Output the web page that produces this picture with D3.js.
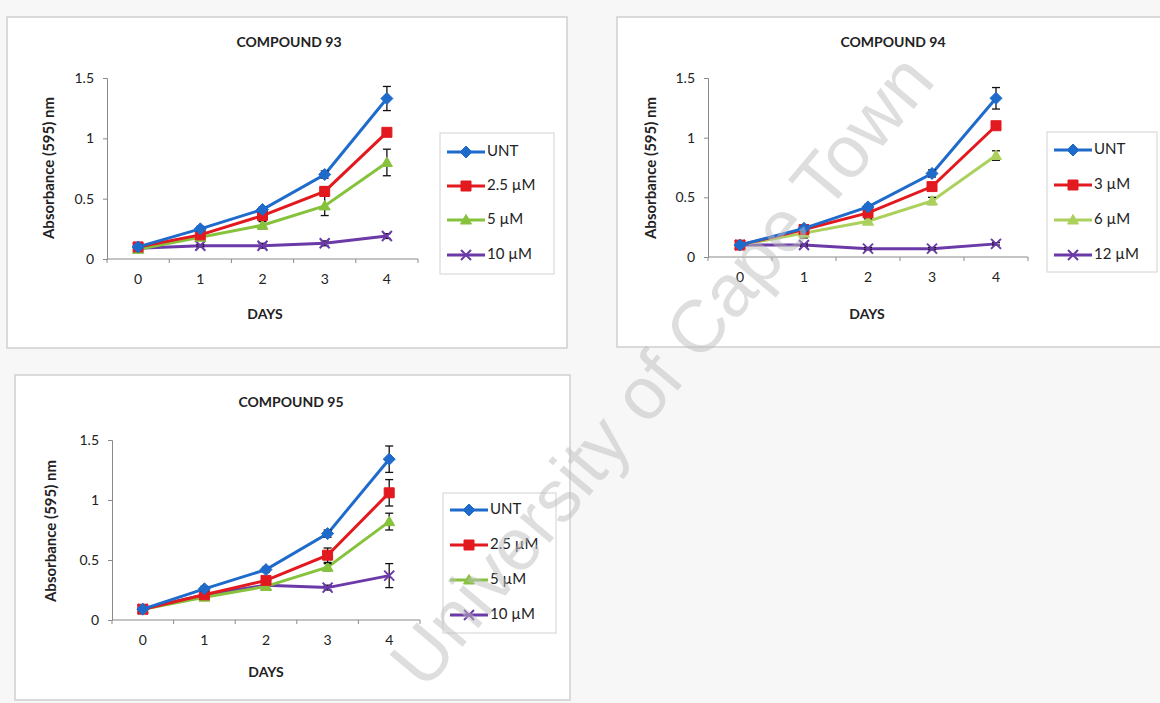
<!DOCTYPE html>
<html>
<head>
<meta charset="utf-8">
<script src="https://cdn.jsdelivr.net/npm/d3@7"></script>
<style>
  html, body { margin: 0; padding: 0; background: #f7f7f8; }
  svg { display: block; }
  text { font-family: Lato, "Open Sans", "DejaVu Sans", sans-serif; }
</style>
</head>
<body>
<svg id="chart" width="1160" height="703"></svg>
<script>
// ---------------- DATA ----------------
const days = [0, 1, 2, 3, 4];
const dayLabels = ["0", "1", "2", "3", "4"];
const yTicks = [0, 0.5, 1, 1.5];
const yTickLabels = ["0", "0.5", "1", "1.5"];
const titles = ["COMPOUND 93", "COMPOUND 94", "COMPOUND 95"];
const xAxisTitle = "DAYS";
const yAxisTitle = "Absorbance (595) nm";

const legend93 = ["UNT", "2.5 µM", "5 µM", "10 µM"];
const legend94 = ["UNT", "3 µM", "6 µM", "12 µM"];
const legend95 = ["UNT", "2.5 µM", "5 µM", "10 µM"];

// Compound 93
const c93_unt   = [0.10, 0.25, 0.41, 0.70, 1.33];
const c93_s2    = [0.10, 0.20, 0.36, 0.56, 1.05];
const c93_s3    = [0.08, 0.18, 0.28, 0.44, 0.80];
const c93_s4    = [0.09, 0.11, 0.11, 0.13, 0.19];
const c93_unt_err = [0.01, 0.02, 0.02, 0.03, 0.10];
const c93_s2_err  = [0.01, 0.02, 0.02, 0.04, 0.03];
const c93_s3_err  = [0.01, 0.02, 0.03, 0.08, 0.11];
const c93_s4_err  = [0.01, 0.01, 0.02, 0.02, 0.02];

// Compound 94
const c94_unt   = [0.10, 0.24, 0.42, 0.70, 1.33];
const c94_s2    = [0.10, 0.23, 0.37, 0.59, 1.10];
const c94_s3    = [0.10, 0.20, 0.30, 0.47, 0.85];
const c94_s4    = [0.10, 0.10, 0.07, 0.07, 0.11];
const c94_unt_err = [0.01, 0.02, 0.02, 0.03, 0.09];
const c94_s2_err  = [0.01, 0.02, 0.02, 0.03, 0.02];
const c94_s3_err  = [0.01, 0.04, 0.02, 0.03, 0.04];
const c94_s4_err  = [0.01, 0.01, 0.01, 0.01, 0.01];

// Compound 95
const c95_unt   = [0.09, 0.26, 0.42, 0.72, 1.34];
const c95_s2    = [0.09, 0.21, 0.33, 0.54, 1.06];
const c95_s3    = [0.09, 0.19, 0.28, 0.44, 0.82];
const c95_s4    = [0.09, 0.21, 0.29, 0.27, 0.37];
const c95_unt_err = [0.01, 0.02, 0.02, 0.03, 0.11];
const c95_s2_err  = [0.01, 0.02, 0.02, 0.06, 0.11];
const c95_s3_err  = [0.01, 0.02, 0.02, 0.03, 0.07];
const c95_s4_err  = [0.01, 0.02, 0.02, 0.02, 0.10];

const watermark = "University of Cape Town";

// ---------------- STYLE / LAYOUT ----------------
const colors = ["#1f6bcc", "#e2191f", "#86c23c", "#6b3aa8"];
const colors94 = ["#1f6bcc", "#e2191f", "#acd05c", "#6b3aa8"];
const markers = ["diamond", "square", "triangle", "cross"];

const panels = [
  { frame: [7, 17, 567, 348], plotX: [107, 418], y0: 259, y15: 78,
    legend: [440, 133, 554, 274], rows: [152, 186, 220, 255],
    title: [289, 43], xt: [265, 315], yt: [50, 168],
    labels: legend93, colors: colors,
    series: [c93_unt, c93_s2, c93_s3, c93_s4],
    errs: [c93_unt_err, c93_s2_err, c93_s3_err, c93_s4_err], name: titles[0] },
  { frame: [617, 17, 1190, 347], plotX: [708, 1028], y0: 257, y15: 78,
    legend: [1047, 132, 1157, 272], rows: [150, 185, 220, 255],
    title: [893, 43], xt: [867, 315], yt: [652, 168],
    labels: legend94, colors: colors94,
    series: [c94_unt, c94_s2, c94_s3, c94_s4],
    errs: [c94_unt_err, c94_s2_err, c94_s3_err, c94_s4_err], name: titles[1] },
  { frame: [15, 375, 570, 700], plotX: [112, 420], y0: 620, y15: 440,
    legend: [443, 493, 556, 633], rows: [510, 545, 580, 615],
    title: [291, 403], xt: [266, 673], yt: [52, 531],
    labels: legend95, colors: colors,
    series: [c95_unt, c95_s2, c95_s3, c95_s4],
    errs: [c95_unt_err, c95_s2_err, c95_s3_err, c95_s4_err], name: titles[2] }
];

const svg = d3.select("#chart");

function markerPath(type, s) {
  if (type === "diamond") return `M0,${-s}L${s},0L0,${s}L${-s},0Z`;
  if (type === "square") return `M${-s},${-s}H${s}V${s}H${-s}Z`;
  if (type === "triangle") return `M0,${-s * 1.1}L${s * 1.1},${s * 0.8}L${-s * 1.1},${s * 0.8}Z`;
  return `M${-s},${-s}L${s},${s}M${-s},${s}L${s},${-s}`;
}

function drawMarker(g, type, x, y, color) {
  const size = type === "diamond" ? 6 : 5;
  const p = g.append("path")
    .attr("d", markerPath(type, size))
    .attr("transform", `translate(${x},${y})`);
  if (type === "cross") {
    p.attr("fill", "none").attr("stroke", color).attr("stroke-width", 2);
  } else {
    p.attr("fill", color).attr("stroke", color).attr("stroke-width", 1);
  }
}

panels.forEach((P) => {
  const g = svg.append("g");
  const [fx0, fy0, fx1, fy1] = P.frame;
  g.append("rect").attr("x", fx0).attr("y", fy0)
    .attr("width", fx1 - fx0).attr("height", fy1 - fy0)
    .attr("fill", "#ffffff").attr("stroke", "#cfcfcf").attr("stroke-width", 1.5);

  const x = d3.scalePoint().domain(days).range(P.plotX).padding(0.5);
  const xb = d3.scaleBand().domain(days).range(P.plotX);
  const y = d3.scaleLinear().domain([0, 1.5]).range([P.y0, P.y15]);

  // title
  g.append("text").attr("x", P.title[0]).attr("y", P.title[1])
    .attr("text-anchor", "middle").attr("dominant-baseline", "middle")
    .attr("font-size", 14).attr("font-weight", 700).attr("fill", "#222")
    .text(P.name);

  // y axis
  const yAxis = d3.axisLeft(y).tickValues(yTicks)
    .tickFormat((d, i) => yTickLabels[i]).tickSize(4).tickPadding(9);
  const ya = g.append("g").attr("transform", `translate(${P.plotX[0]},0)`).call(yAxis);
  ya.select(".domain").attr("stroke", "#8a8a8a");
  ya.selectAll(".tick line").attr("stroke", "#8a8a8a");
  ya.selectAll("text").attr("font-size", 14).attr("fill", "#222")
    .style("font-family", "Lato, sans-serif");

  // x axis (Excel-style ticks between categories)
  const xa = g.append("g").attr("transform", `translate(0,${P.y0})`);
  xa.append("line").attr("x1", P.plotX[0]).attr("x2", P.plotX[1])
    .attr("y1", 0).attr("y2", 0).attr("stroke", "#8a8a8a").attr("stroke-width", 1);
  const edges = days.map(d => xb(d)).concat([P.plotX[1]]);
  xa.selectAll("line.tk").data(edges).enter().append("line").attr("class", "tk")
    .attr("x1", d => d).attr("x2", d => d).attr("y1", 0).attr("y2", 4)
    .attr("stroke", "#8a8a8a");
  xa.selectAll("text").data(days).enter().append("text")
    .attr("x", d => x(d)).attr("y", 25).attr("text-anchor", "middle")
    .attr("font-size", 14).attr("fill", "#222").text((d, i) => dayLabels[i]);

  // axis titles
  g.append("text").attr("x", P.xt[0]).attr("y", P.xt[1])
    .attr("text-anchor", "middle").attr("dominant-baseline", "middle")
    .attr("font-size", 14).attr("font-weight", 700).attr("fill", "#222").text(xAxisTitle);
  g.append("text").attr("transform", `translate(${P.yt[0]},${P.yt[1]}) rotate(-90)`)
    .attr("text-anchor", "middle").attr("dominant-baseline", "middle")
    .attr("font-size", 15).attr("font-weight", 700).attr("fill", "#222").text(yAxisTitle);

  // series (draw purple first, blue last so blue on top)
  const order = [3, 2, 1, 0];
  const line = d3.line().x((d, i) => x(days[i])).y(d => y(d));
  order.forEach((si) => {
    const vals = P.series[si], errs = P.errs[si], col = P.colors[si];
    const sg = g.append("g");
    sg.append("path").attr("d", line(vals)).attr("fill", "none")
      .attr("stroke", col).attr("stroke-width", 3);
    // error bars
    vals.forEach((v, i) => {
      const cx = x(days[i]);
      const top = y(v + errs[i]), bot = y(v - errs[i]);
      const eg = sg.append("g").attr("stroke", "#111").attr("stroke-width", 1.3);
      eg.append("line").attr("x1", cx).attr("x2", cx).attr("y1", top).attr("y2", bot);
      eg.append("line").attr("x1", cx - 4).attr("x2", cx + 4).attr("y1", top).attr("y2", top);
      eg.append("line").attr("x1", cx - 4).attr("x2", cx + 4).attr("y1", bot).attr("y2", bot);
    });
    vals.forEach((v, i) => drawMarker(sg, markers[si], x(days[i]), y(v), col));
  });

  // legend
  const [lx0, ly0, lx1, ly1] = P.legend;
  g.append("rect").attr("x", lx0).attr("y", ly0).attr("width", lx1 - lx0)
    .attr("height", ly1 - ly0).attr("fill", "#ffffff").attr("stroke", "#d2d2d2");
  P.labels.forEach((lab, i) => {
    const ry = P.rows[i];
    const col = P.colors[i];
    g.append("line").attr("x1", lx0 + 7).attr("x2", lx0 + 45).attr("y1", ry).attr("y2", ry)
      .attr("stroke", col).attr("stroke-width", 3);
    drawMarker(g, markers[i], lx0 + 26, ry, col);
    g.append("text").attr("x", lx0 + 47).attr("y", ry).attr("dominant-baseline", "middle")
      .attr("font-size", 15).attr("fill", "#222").text(lab);
  });
});

// watermark
svg.append("text")
  .attr("transform", "translate(666,374) rotate(-50)")
  .attr("text-anchor", "middle").attr("dominant-baseline", "middle")
  .attr("font-size", 74).attr("fill", "#bdbdbd").attr("fill-opacity", 0.5)
  .style("font-family", "'Liberation Sans', Arial, sans-serif")
  .text(watermark);
</script>
</body>
</html>
